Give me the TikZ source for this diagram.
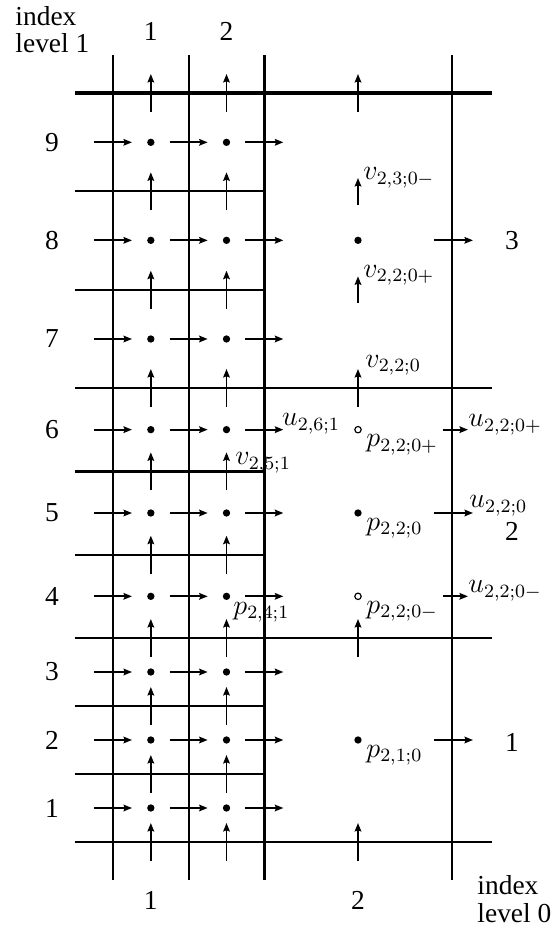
\documentclass[tikz,border=0pt]{standalone}
\usepackage[no-math]{fontspec}
\setmainfont{Liberation Serif}
\usetikzlibrary{arrows.meta}

\begin{document}
\begin{tikzpicture}[
    font=\fontsize{11.7}{11.7}\selectfont,
    >={Stealth[length=3.6pt,width=2.8pt,inset=0.5pt]},
    gridline/.style={line width=0.85pt},
    gridthick/.style={line width=1.45pt},
    flux/.style={->, line width=0.85pt},
    lab/.style={anchor=base west, inner sep=0pt},
]
    \useasboundingbox (0,0) rectangle (8.4,13.935);
    % grid lines
    \foreach \x in {1.695, 2.83, 6.78}
        \draw[gridline] (\x,0.735) -- (\x,13.11);
    \draw[gridthick] (3.965,0.735) -- (3.965,13.11);
    \foreach \y in {1.305, 4.365, 8.115}
        \draw[gridline] (1.125,\y) -- (7.38,\y);
    \draw[gridthick] (1.125,12.54) -- (7.38,12.54);
    \foreach \y in {2.325, 3.345, 5.615, 9.59, 11.065}
        \draw[gridline] (1.125,\y) -- (3.965,\y);
    \draw[gridthick] (1.125,6.865) -- (3.965,6.865);
    % fine cells (level 1)
    \foreach \y/\n in {1.815/1, 2.835/2, 3.855/3, 4.99/4, 6.24/5, 7.49/6, 8.85/7, 10.33/8, 11.8/9} {
        \node (row\n) at (0.78,\y) {\n};
        \fill (2.2625,\y) circle (0.055) (3.3975,\y) circle (0.055);
        \foreach \x in {1.695, 2.83, 3.965}
            \draw[flux] (\x-0.285,\y) -- (\x+0.285,\y);
    }
    \foreach \y in {1.305, 2.325, 3.345, 4.365, 5.615, 6.865, 8.115, 9.59, 11.065, 12.54}
        \foreach \x in {2.2625, 3.3975}
            \draw[flux] (\x,\y-0.285) -- (\x,\y+0.285);
    % coarse cells (level 0)
    \fill (5.37,10.33) circle (0.055) (5.37,6.24) circle (0.055) (5.37,2.835) circle (0.055);
    \draw[line width=0.5pt] (5.37,7.49) circle (0.048) (5.37,4.99) circle (0.048);
    \foreach \y in {1.305, 4.365, 8.115, 12.54}
        \draw[flux] (5.37,\y-0.285) -- (5.37,\y+0.285);
    \draw[flux] (5.37,10.865) -- (5.37,11.265);
    \draw[flux] (5.37,9.39) -- (5.37,9.79);
    \foreach \y in {2.835, 6.24, 10.33}
        \draw[flux] (6.51,\y) -- (7.095,\y);
    \foreach \y in {4.99, 7.49}
        \draw[flux] (6.645,\y) -- (7.02,\y);
    % labels
    \node[lab] (v230m) at (5.445,11.235) {$v_{2,3;0-}$};
    \node[lab] (v220p) at (5.445,9.77) {$v_{2,2;0+}$};
    \node[lab] (v220) at (5.475,8.42) {$v_{2,2;0}$};
    \node[lab] (v251) at (3.525,6.96) {$v_{2,5;1}$};
    \node[lab] (u261) at (4.225,7.545) {$u_{2,6;1}$};
    \node[lab] (u220p) at (7.02,7.53) {$u_{2,2;0+}$};
    \node[lab] (u220) at (7.035,6.315) {$u_{2,2;0}$};
    \node[lab] (u220m) at (7.02,5.04) {$u_{2,2;0-}$};
    \node[lab] (p220p) at (5.49,7.23) {$p_{2,2;0+}$};
    \node[lab] (p220) at (5.49,5.98) {$p_{2,2;0}$};
    \node[lab] (p220m) at (5.49,4.73) {$p_{2,2;0-}$};
    \node[lab] (p210) at (5.49,2.575) {$p_{2,1;0}$};
    \node[lab] (p241) at (3.495,4.72) {$p_{2,4;1}$};
    % index numbers
    \node[anchor=base] (top1) at (2.2625,13.32) {1};
    \node[anchor=base] (top2) at (3.3975,13.32) {2};
    \node (bot1) at (2.2625,0.435) {1};
    \node (bot2) at (5.37,0.435) {2};
    \node (right3) at (7.68,10.33) {3};
    \node (right2) at (7.68,5.97) {2};
    \node (right1) at (7.68,2.805) {1};
    \node[lab, align=left] (lev1) at (0.225,13.14) {index\\level 1};
    \node[lab, align=left] (lev0) at (7.155,0.105) {index\\level 0};
\end{tikzpicture}
\end{document}
